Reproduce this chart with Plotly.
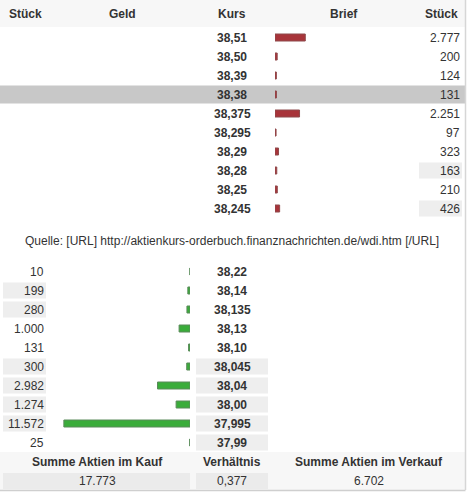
import plotly.graph_objects as go

# Orderbuch-Daten
ask_kurs = ["38,51", "38,50", "38,39", "38,38", "38,375", "38,295", "38,29", "38,28", "38,25", "38,245"]
ask_stueck = [2777, 200, 124, 131, 2251, 97, 323, 163, 210, 426]
ask_cell_grey = [False, False, False, False, False, False, False, True, False, True]
ask_highlight = 3

bid_kurs = ["38,22", "38,14", "38,135", "38,13", "38,10", "38,045", "38,04", "38,00", "37,995", "37,99"]
bid_stueck = [10, 199, 280, 1000, 131, 300, 2982, 1274, 11572, 25]
bid_stueck_grey = [False, True, True, False, False, True, True, True, True, False]
bid_kurs_grey = [False, False, False, False, False, True, True, True, True, True]

header = ["Stück", "Geld", "Kurs", "Brief", "Stück"]
quelle = "Quelle: [URL] http://aktienkurs-orderbuch.finanznachrichten.de/wdi.htm [/URL]"
summe_kauf = "17.773"
verhaeltnis = "0,377"
summe_verkauf = "6.702"

W, H = 467, 492
ROW_H = 19
ASK_TOP = 28
BID_TOP = 262
FONT = "Liberation Sans, Arial, sans-serif"
TXT = "#333333"
CELL_GREY = "#eeeeee"
BAR_SPAN = 150          # px of axis length for bars
PX_PER_SHARE = 0.0109


def fmt(n):
    return f"{n:,}".replace(",", ".")


def row_y(top, i):
    return top + ROW_H * (i + 0.5)


ask_y = [row_y(ASK_TOP, i) for i in range(len(ask_kurs))]
bid_y = [row_y(BID_TOP, i) for i in range(len(bid_kurs))]

fig = go.Figure()

# bars: Brief (ask) grows right from x=275, Geld (bid) grows left to x=190
fig.add_trace(go.Bar(x=ask_stueck, y=ask_y, orientation="h", width=7, xaxis="x2", yaxis="y",
                     marker=dict(color="#a8343a", line=dict(color="#8e4a4c", width=1)), showlegend=False))
fig.add_trace(go.Bar(x=bid_stueck, y=bid_y, orientation="h", width=7, xaxis="x3", yaxis="y",
                     marker=dict(color="#3aac3a", line=dict(color="#5a8a5a", width=1)), showlegend=False))

shapes = []
annotations = []


def rect(x0, x1, y0, y1, color):
    shapes.append(dict(type="rect", xref="x", yref="y", x0=x0, x1=x1, y0=y0, y1=y1,
                       fillcolor=color, line=dict(width=0), layer="below"))


def text(x, y, s, anchor="center", bold=False, size=12):
    annotations.append(dict(xref="x", yref="y", x=x, y=y, text=f"<b>{s}</b>" if bold else s,
                            xanchor=anchor, yanchor="middle", showarrow=False,
                            font=dict(family=FONT, size=size, color=TXT)))


# header
rect(0, 465, 0, 27, "#f7f7f7")
for s, x in zip(header, [25, 122, 232, 344, 441]):
    text(x, 13.5, s, bold=True)

# ask rows
for i, (k, n) in enumerate(zip(ask_kurs, ask_stueck)):
    y = ask_y[i]
    if i == ask_highlight:
        rect(0, 465, y - 9, y + 9, "#c8c8c8")
    if ask_cell_grey[i]:
        rect(419, 462, y - 8, y + 8, CELL_GREY)
    text(232, y, k, bold=True)
    text(462, y, fmt(n), anchor="right")

text(232, 241, quelle)

# bid rows
for i, (k, n) in enumerate(zip(bid_kurs, bid_stueck)):
    y = bid_y[i]
    if bid_stueck_grey[i]:
        rect(3, 46, y - 8, y + 8, CELL_GREY)
    if bid_kurs_grey[i]:
        rect(196, 268, y - 8, y + 8, CELL_GREY)
    text(46, y, fmt(n), anchor="right")
    text(232, y, k, bold=True)

# footer
rect(0, 465, 452, 490, "#f7f7f7")
rect(3, 190, 473, 489, "#ebebeb")
rect(196, 268, 473, 489, "#ebebeb")
text(97, 462, "Summe Aktien im Kauf", bold=True)
text(232, 462, "Verhältnis", bold=True)
text(369, 462, "Summe Aktien im Verkauf", bold=True)
text(97, 481, summe_kauf)
text(232, 481, verhaeltnis)
text(369, 481, summe_verkauf)

# borders
shapes.append(dict(type="line", xref="x", yref="y", x0=465.5, x1=465.5, y0=0, y1=490,
                   line=dict(color="#d6d6d6", width=1.5)))
shapes.append(dict(type="line", xref="x", yref="y", x0=0, x1=465.5, y0=490.5, y1=490.5,
                   line=dict(color="#cfcfcf", width=1.5)))

hidden = dict(visible=False, showgrid=False, zeroline=False, fixedrange=True)
max_shares = BAR_SPAN / PX_PER_SHARE
fig.update_layout(
    width=W, height=H,
    margin=dict(l=0, r=0, t=0, b=0),
    paper_bgcolor="white", plot_bgcolor="rgba(0,0,0,0)",
    barmode="overlay",
    xaxis=dict(range=[0, W], domain=[0, 1], **hidden),
    xaxis2=dict(range=[0, max_shares], domain=[275 / W, (275 + BAR_SPAN) / W], anchor="y", **hidden),
    xaxis3=dict(range=[max_shares, 0], domain=[(190 - BAR_SPAN) / W, 190 / W], anchor="y", **hidden),
    yaxis=dict(range=[H, 0], domain=[0, 1], **hidden),
    shapes=shapes,
    annotations=annotations,
)

# the page's default body margin would shift the chart by 8px
fig.write_html("out.html", config={"displayModeBar": False},
               post_script="document.body.style.margin='0';document.body.style.overflow='hidden';")
